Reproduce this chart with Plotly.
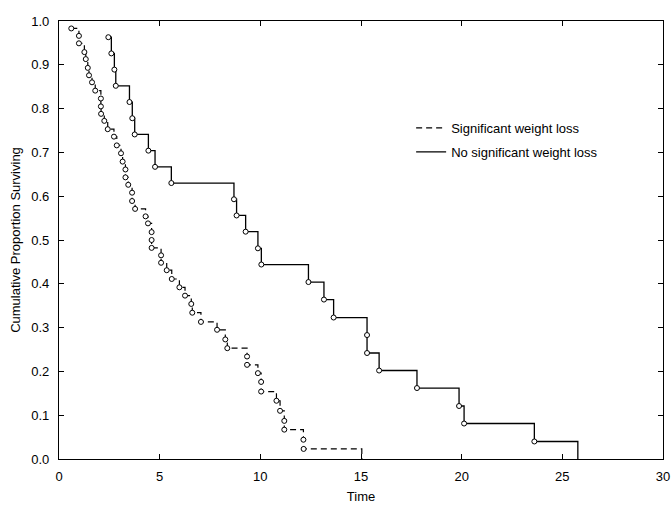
import plotly.graph_objects as go

# Kaplan-Meier step points: event times and cumulative proportion surviving after each event
sig_time = [0.61, 0.99, 0.99, 1.26, 1.33, 1.43, 1.49, 1.64, 1.80, 2.08, 2.08, 2.09,
            2.25, 2.42, 2.73, 2.87, 3.08, 3.16, 3.30, 3.30, 3.44, 3.63, 3.63, 3.78,
            4.30, 4.42, 4.60, 4.60, 4.60, 5.07, 5.07, 5.35, 5.60, 5.98, 6.26, 6.57,
            6.62, 7.05, 7.85, 8.26, 8.36, 9.34, 9.34, 9.88, 10.04, 10.04, 10.80, 10.98,
            11.19, 11.19, 12.14, 12.15, 15.04]
sig_surv = [0.983, 0.966, 0.949, 0.929, 0.913, 0.893, 0.876, 0.860, 0.841, 0.823, 0.805, 0.788,
            0.772, 0.753, 0.736, 0.716, 0.698, 0.679, 0.661, 0.643, 0.626, 0.608, 0.589, 0.571,
            0.554, 0.538, 0.518, 0.500, 0.482, 0.465, 0.448, 0.431, 0.411, 0.392, 0.373, 0.354,
            0.334, 0.313, 0.295, 0.273, 0.253, 0.234, 0.215, 0.196, 0.176, 0.154, 0.133, 0.110,
            0.087, 0.067, 0.044, 0.023, 0.0]

nosig_time = [2.45, 2.60, 2.75, 2.82, 3.50, 3.64, 3.76, 4.44, 4.77, 5.58, 8.69, 8.82,
              9.27, 9.88, 10.05, 12.39, 13.16, 13.64, 15.30, 15.30, 15.90, 17.78, 19.87,
              20.12, 23.61, 25.77]
nosig_surv = [0.963, 0.926, 0.889, 0.852, 0.815, 0.778, 0.741, 0.704, 0.667, 0.630, 0.593, 0.556,
              0.519, 0.481, 0.444, 0.404, 0.364, 0.323, 0.283, 0.242, 0.202, 0.162, 0.121,
              0.081, 0.040, 0.0]

sig_label = "Significant weight loss"
nosig_label = "No significant weight loss"

x_ticks = [0, 5, 10, 15, 20, 25, 30]
y_ticks = [0.0, 0.1, 0.2, 0.3, 0.4, 0.5, 0.6, 0.7, 0.8, 0.9, 1.0]

FONT = "Liberation Sans, Arial, sans-serif"
marker = dict(symbol="circle", size=5, color="white", line=dict(color="black", width=1))

fig = go.Figure()

# survival curves (markers only on event points)
fig.add_trace(go.Scatter(
    x=sig_time, y=sig_surv, mode="lines",
    line=dict(color="black", width=1.2, dash="6px,4px", shape="hv"),
    showlegend=False, hoverinfo="skip"))
fig.add_trace(go.Scatter(
    x=sig_time[:-1], y=sig_surv[:-1], mode="markers", marker=marker,
    showlegend=False))
fig.add_trace(go.Scatter(
    x=nosig_time, y=nosig_surv, mode="lines",
    line=dict(color="black", width=1.3, shape="hv"),
    showlegend=False, hoverinfo="skip"))
fig.add_trace(go.Scatter(
    x=nosig_time[:-1], y=nosig_surv[:-1], mode="markers", marker=marker,
    showlegend=False))

# legend entries
fig.add_trace(go.Scatter(x=[None], y=[None], mode="lines", name=sig_label,
                         line=dict(color="black", width=1.2, dash="6px,4px"),
                         legendgroup="a"))
fig.add_trace(go.Scatter(x=[None], y=[None], mode="lines", name=nosig_label,
                         line=dict(color="black", width=1.3),
                         legendgroup="b"))

axis_common = dict(
    showline=True, linecolor="black", linewidth=1.2, mirror="ticks",
    ticks="inside", ticklen=5, tickcolor="black", tickwidth=1,
    showgrid=False, zeroline=False, automargin=False,
    tickfont=dict(family=FONT, size=13, color="black"),
)

fig.update_xaxes(range=[0, 30], tickvals=x_ticks, ticktext=[str(v) for v in x_ticks],
                 title=dict(text="Time", font=dict(family=FONT, size=13, color="black"), standoff=9),
                 ticklabelstandoff=5, **axis_common)
fig.update_yaxes(range=[0, 1], tickvals=y_ticks, ticktext=[f"{v:.1f}" for v in y_ticks],
                 title=dict(text="Cumulative Proportion Surviving",
                            font=dict(family=FONT, size=13, color="black"), standoff=7),
                 ticklabelstandoff=6, **axis_common)

fig.update_layout(
    width=672, height=506,
    margin=dict(l=59, r=9, t=21, b=47),
    paper_bgcolor="white", plot_bgcolor="white",
    font=dict(family=FONT, size=13, color="black"),
    legend=dict(x=0.583, y=0.79, xanchor="left", yanchor="top",
                bgcolor="rgba(0,0,0,0)", borderwidth=0, tracegroupgap=4,
                itemwidth=30, font=dict(family=FONT, size=13, color="black")),
)

fig.write_html("out.html")
